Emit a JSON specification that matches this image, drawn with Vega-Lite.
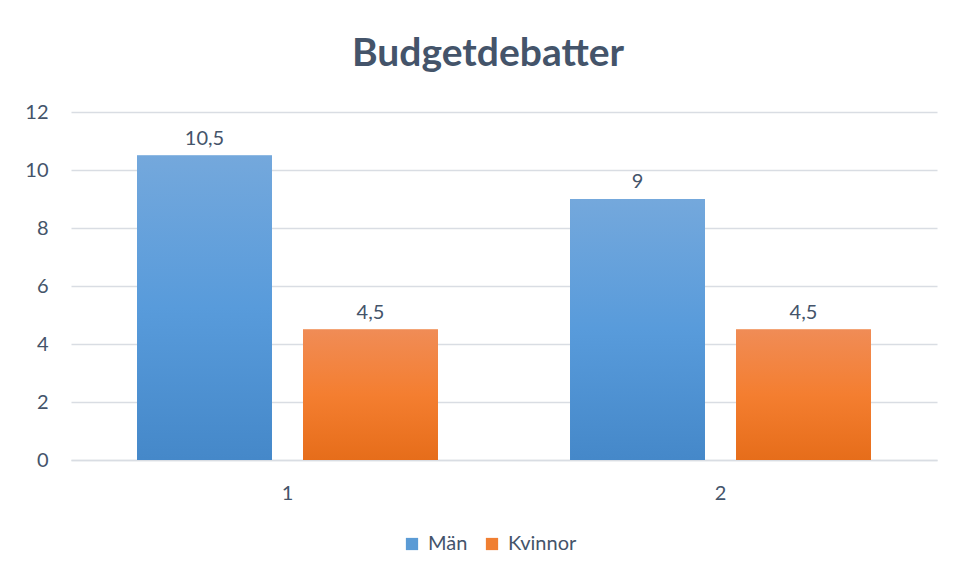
{
  "$schema": "https://vega.github.io/schema/vega-lite/v6.json",
  "autosize": {"type": "none"},
  "width": 866,
  "height": 348,
  "padding": {"left": 71, "top": 112, "right": 20, "bottom": 121},
  "background": "white",
  "title": {
    "text": "Budgetdebatter",
    "font": "Lato",
    "fontSize": 39,
    "fontWeight": "bold",
    "color": "#44546A",
    "anchor": "middle",
    "dx": -16,
    "offset": 28
  },
  "data": {
    "values": [
      {"group": "1", "gender": "Män", "value": 10.5},
      {"group": "1", "gender": "Kvinnor", "value": 4.5},
      {"group": "2", "gender": "Män", "value": 9},
      {"group": "2", "gender": "Kvinnor", "value": 4.5}
    ]
  },
  "encoding": {
    "x": {
      "field": "group",
      "type": "nominal",
      "sort": ["1", "2"],
      "scale": {"paddingInner": 0.305, "paddingOuter": 0.1525},
      "axis": {
        "title": null,
        "labelAngle": 0,
        "ticks": false,
        "domain": true,
        "domainColor": "#D9DDE3",
        "domainWidth": 1.5,
        "labelPadding": 23,
        "labelFont": "Lato",
        "labelFontSize": 20,
        "labelColor": "#44546A"
      }
    },
    "xOffset": {
      "field": "gender",
      "type": "nominal",
      "sort": ["Män", "Kvinnor"],
      "scale": {"paddingInner": 0.187, "paddingOuter": 0}
    },
    "y": {
      "field": "value",
      "type": "quantitative",
      "scale": {"domain": [0, 12]},
      "axis": {
        "title": null,
        "values": [0, 2, 4, 6, 8, 10, 12],
        "ticks": false,
        "domain": false,
        "grid": true,
        "gridColor": "#D9DDE3",
        "gridWidth": 1.5,
        "labelPadding": 23,
        "labelFont": "Lato",
        "labelFontSize": 20,
        "labelColor": "#44546A"
      }
    }
  },
  "layer": [
    {
      "mark": {"type": "bar"},
      "encoding": {
        "color": {
          "field": "gender",
          "type": "nominal",
          "sort": ["Män", "Kvinnor"],
          "scale": {"domain": ["Män", "Kvinnor"], "range": ["#5B9BD5", "#F07F32"]},
          "legend": {
            "title": null,
            "orient": "none",
            "direction": "horizontal",
            "legendX": 331,
            "legendY": 422,
            "symbolType": "square",
            "symbolSize": 150,
            "symbolStrokeWidth": 0,
            "labelFont": "Lato",
            "labelFontSize": 20,
            "labelColor": "#44546A",
            "labelOffset": 6,
            "columnPadding": 14
          }
        }
      }
    },
    {
      "mark": {"type": "bar"},
      "encoding": {
        "fill": {
          "condition": {
            "test": "datum.gender === 'Män'",
            "value": {
              "gradient": "linear", "x1": 0, "y1": 0, "x2": 0, "y2": 1,
              "stops": [
                {"offset": 0, "color": "#74A8DC"},
                {"offset": 0.5, "color": "#589BDB"},
                {"offset": 1, "color": "#4588C9"}
              ]
            }
          },
          "value": {
            "gradient": "linear", "x1": 0, "y1": 0, "x2": 0, "y2": 1,
            "stops": [
              {"offset": 0, "color": "#F08C56"},
              {"offset": 0.5, "color": "#F47E30"},
              {"offset": 1, "color": "#E66D1A"}
            ]
          }
        }
      }
    },
    {
      "mark": {
        "type": "text",
        "baseline": "alphabetic",
        "dy": -11,
        "font": "Lato",
        "fontSize": 20,
        "color": "#44546A"
      },
      "encoding": {
        "text": {"field": "value", "type": "quantitative", "format": "~g"}
      }
    }
  ],
  "config": {
    "view": {"stroke": null},
    "locale": {
      "number": {"decimal": ",", "thousands": "\u00a0", "grouping": [3], "currency": ["", " kr"]}
    }
  }
}
